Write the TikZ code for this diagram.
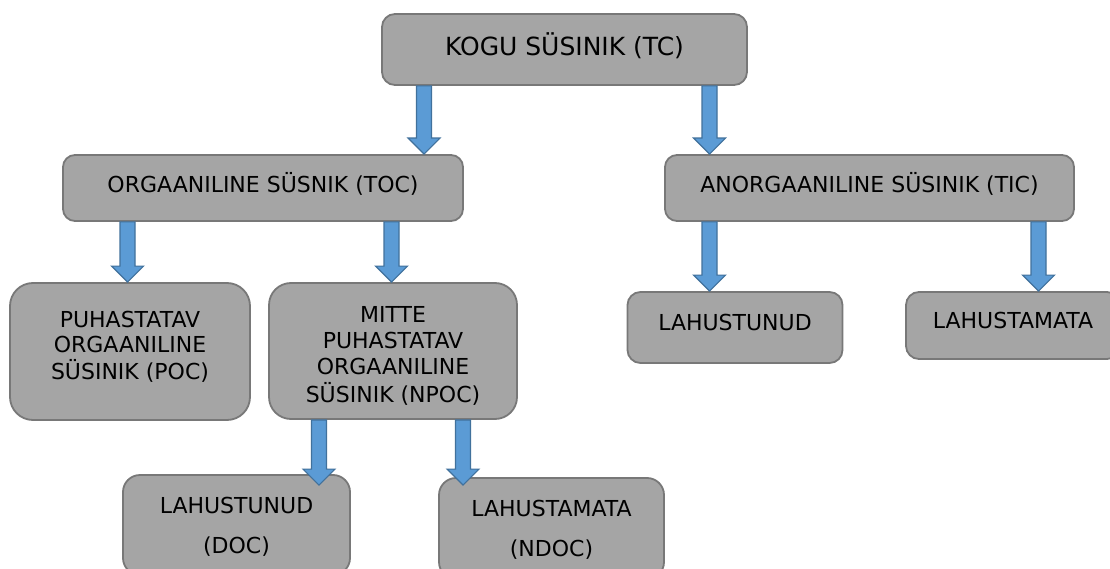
\documentclass[tikz,border=0pt]{standalone}
\usepackage{fontspec}
\setmainfont{DejaVu Sans}
\usetikzlibrary{calc}
\definecolor{boxfill}{HTML}{A5A5A5}
\definecolor{boxline}{HTML}{787878}
\definecolor{arrfill}{HTML}{5B9BD5}
\definecolor{arrline}{HTML}{41719C}
\newcommand\btext[2][0pt]{\raisebox{#1}[\height][\depth]{\begin{tabular}{@{}c@{}}#2\end{tabular}}}
\newcommand\blockarrow[4]{%
  \draw[barrow] let \p1=(#2.south), \p2=(#3.north), \p3=(#1,0) in
    (\x3-7.5pt,\y1) -- (\x3+7.5pt,\y1) -- (\x3+7.5pt,\y2-#4pt+16pt)
    -- (\x3+16pt,\y2-#4pt+16pt) -- (\x3,\y2-#4pt) -- (\x3-16pt,\y2-#4pt+16pt)
    -- (\x3-7.5pt,\y2-#4pt+16pt) -- cycle;}
\tikzset{
  box/.style={draw=boxline, fill=boxfill, line width=1.8pt, inner sep=0pt,
    font=\fontsize{22}{25}\selectfont, text=black},
  barrow/.style={fill=arrfill, draw=arrline, line width=1.2pt, line join=miter}
}
\begin{document}
\begin{tikzpicture}[x=1pt, y=-1pt]
\useasboundingbox (0,0) rectangle (1110,569);
\clip (0,0) rectangle (1110,569);
\fill[white] (0,0) rectangle (1110,569);

\node[box, minimum width=365pt, minimum height=71pt, rounded corners=13pt,
  font=\fontsize{25}{30}\selectfont] (tc) at (564.5,49.5) {\btext[1.4pt]{KOGU SÜSINIK (TC)}};
\node[box, minimum width=400pt, minimum height=66pt, rounded corners=12pt]
  (toc) at (263,188) {\btext[2pt]{ORGAANILINE SÜSNIK (TOC)}};
\node[box, minimum width=409pt, minimum height=66pt, rounded corners=12pt]
  (tic) at (869.5,188) {\btext[2pt]{ANORGAANILINE SÜSINIK (TIC)}};
\node[box, minimum width=240pt, minimum height=137pt, rounded corners=23pt]
  (poc) at (130,351.5) {\btext[3pt]{PUHASTATAV\\ORGAANILINE\\SÜSINIK (POC)}};
\node[box, minimum width=248pt, minimum height=136pt, rounded corners=22pt,
  font=\fontsize{22}{26}\selectfont]
  (npoc) at (393,351) {\btext[-6pt]{MITTE\\PUHASTATAV\\ORGAANILINE\\SÜSINIK (NPOC)}};
\node[box, minimum width=215pt, minimum height=71pt, rounded corners=13pt]
  (lahr) at (735,327.5) {\btext[2pt]{LAHUSTUNUD}};
\node[box, minimum width=214pt, minimum height=67pt, rounded corners=13pt]
  (lahm) at (1013,325.5) {\btext[2pt]{LAHUSTAMATA}};
\node[box, minimum width=227pt, minimum height=100pt, rounded corners=17pt,
  font=\fontsize{22}{40}\selectfont]
  (doc) at (236.5,525) {\btext{LAHUSTUNUD\\(DOC)}};
\node[box, minimum width=225pt, minimum height=101pt, rounded corners=17pt,
  font=\fontsize{22}{40}\selectfont]
  (ndoc) at (551.5,528.5) {\btext{LAHUSTAMATA\\(NDOC)}};

\blockarrow{424}{tc}{toc}{0}
\blockarrow{709.5}{tc}{tic}{0}
\blockarrow{127.5}{toc}{poc}{0}
\blockarrow{391.5}{toc}{npoc}{0}
\blockarrow{709.5}{tic}{lahr}{0}
\blockarrow{1038.5}{tic}{lahm}{0}
\blockarrow{319}{npoc}{doc}{11}
\blockarrow{463}{npoc}{ndoc}{8}
\end{tikzpicture}
\end{document}
